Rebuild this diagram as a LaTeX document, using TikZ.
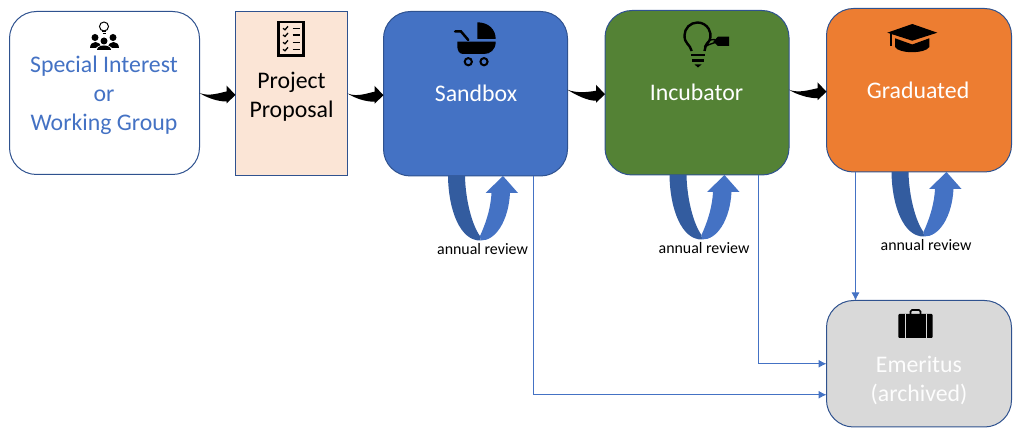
\documentclass[tikz,border=0pt]{standalone}
\usepackage{fontspec}
\setmainfont{Carlito}
\usetikzlibrary{calc,arrows.meta}
\definecolor{edgeblue}{HTML}{2F528F}
\definecolor{stageblue}{HTML}{4472C4}
\definecolor{stagegreen}{HTML}{548235}
\definecolor{stageorange}{HTML}{ED7D31}
\definecolor{stagegrey}{HTML}{D9D9D9}
\definecolor{stagepeach}{HTML}{FBE5D6}
\definecolor{loopdark}{HTML}{335C9F}

\begin{document}
\begin{tikzpicture}[
    x=1pt, y=-1pt,
    stage/.style={
        draw=edgeblue, line width=1pt,
        rounded corners=27pt,
        inner sep=0pt, outer sep=0pt
    },
    caption/.style={
        font=\fontsize{23.8}{29}\selectfont,
        align=center, inner sep=0pt
    },
    review/.style={
        font=\fontsize{15.9}{17}\selectfont,
        inner sep=0pt, yshift=-73pt, xshift=7pt
    },
    sweep/.style={
        to path={
            (\tikztostart) .. controls +(10,4) and ($(\tikztotarget)+(-15,-1)$)
            .. ($(\tikztotarget)+(-9,-2)$)
            -- ($(\tikztotarget)+(-9,-8)$) -- ($(\tikztotarget)+(0,1.5)$)
            -- ($(\tikztotarget)+(-9,10)$) -- ($(\tikztotarget)+(-9,8)$)
            .. controls ($(\tikztotarget)+(-18,8)$) and +(8,5) .. (\tikztostart)
        }
    },
    thinarrow/.style={
        draw=stageblue, line width=1pt,
        -{Latex[length=8pt,width=8pt]}
    },
    reviewloop/.pic={
        \fill[loopdark] (-27.5,0) .. controls (-27,35) and (-15,65) .. (5,64.5)
            -- (4.5,60) .. controls (-3,50) and (-10,25) .. (-10.5,0) -- cycle;
        \fill[stageblue] (4.5,60) .. controls (9,50) and (15,35) .. (16,17)
            -- (10,17) -- (27.5,0) -- (42.5,17) -- (34.5,17)
            .. controls (33,45) and (20,65) .. (5,64.5) -- cycle;
    }
]
\useasboundingbox (0,0) rectangle (1021,438);

\node[stage, fill=white, minimum width=190pt, minimum height=163pt] (interest) at (104.5,93) {};
\node[stage, fill=stagepeach, rounded corners=0pt, minimum width=112pt, minimum height=164pt] (proposal) at (291.5,93.5) {};
\node[stage, fill=stageblue, minimum width=184pt, minimum height=164.5pt] (sandbox) at (475.5,93.75) {};
\node[stage, fill=stagegreen, minimum width=184pt, minimum height=164.5pt] (incubator) at (697,92.75) {};
\node[stage, fill=stageorange, minimum width=185pt, minimum height=163.5pt] (graduated) at (919,90.25) {};
\node[stage, fill=stagegrey, minimum width=185pt, minimum height=126.5pt] (emeritus) at (919,363.75) {};

\node[caption, text=stageblue] (interesttext) at (104,95) {Special Interest\\or\\Working Group};
\node[caption] (proposaltext) at (291.5,96.5) {Project\\Proposal};
\node[caption, text=white] (sandboxtext) at (476,93) {Sandbox};
\node[caption, text=white] (incubatortext) at (696.5,92) {Incubator};
\node[caption, text=white] (graduatedtext) at (918,90) {Graduated};
\node[caption, text=white!95!stagegrey] (emeritustext) at (919,380) {Emeritus\\(archived)};

\fill (interest.east) to[sweep] (proposal.west);
\fill (proposal.east) to[sweep] (sandbox.west);
\fill ([yshift=4pt]sandbox.east) to[sweep] (incubator.west);
\fill ([yshift=3pt]incubator.east) to[sweep] (graduated.west);

\pic at (sandbox.south) {reviewloop};
\pic at (incubator.south) {reviewloop};
\pic at (graduated.south) {reviewloop};
\node[review] (reviewa) at (sandbox.south) {annual review};
\node[review] (reviewb) at (incubator.south) {annual review};
\node[review] (reviewc) at (graduated.south) {annual review};

\draw[thinarrow] ([xshift=58pt]sandbox.south) |- ([yshift=-31pt]emeritus.west);
\draw[thinarrow] ([xshift=61.5pt]incubator.south) |- (emeritus.west);
\draw[thinarrow] ([xshift=-63.5pt]graduated.south) -- ([xshift=-63.5pt]emeritus.north);

% people
\draw[line width=1pt] (104,26.5) circle (4.5);
\draw[line width=1pt] (102,32) -- (106,32) (102.5,34) -- (105.5,34);
\fill (95,37.5) circle (3.5) (113,37.5) circle (3.5);
\fill (89.5,48) .. controls (89.5,40) and (100.5,40) .. (100.5,48) -- cycle;
\fill (107.5,48) .. controls (107.5,40) and (118.5,40) .. (118.5,48) -- cycle;
\fill[white] (104,41) circle (4.5);
\fill (104,41) circle (3.5);
\fill[white] (95,51) .. controls (95,43) and (113,43) .. (113,51) -- cycle;
\fill (97,50.5) .. controls (97,44) and (111,44) .. (111,50.5) -- cycle;

% checklist
\draw[line width=2.5pt] (278.5,22) rectangle (303.5,55.5);
\foreach \rowy in {28.3,35,42.3,49.3}{
    \draw[line width=1.3pt] (283,\rowy) -- (285,\rowy+1.5) -- (288,\rowy-2);
    \draw[line width=1.3pt] (292.5,\rowy) -- (300,\rowy);
}

% pram
\fill (477.3,22.3) .. controls (488,22.3) and (495.7,29) .. (495.7,39) -- (477.3,39) -- cycle;
\fill (457.3,41.7) -- (495.7,41.7) .. controls (495.7,50) and (490,54) .. (484,54)
    -- (463,54) .. controls (459,54) and (457.3,50) .. (457.3,46) -- cycle;
\draw[line width=2.5pt, line cap=round] (455,31.5) -- (461,31.5) -- (468.3,40);
\draw[line width=2pt] (468.3,61.7) circle (3.6) (484,61.7) circle (3.6);

% bulb
\draw[line width=2.4pt] (691.7,51) .. controls (690,44) and (684.5,44) .. (684.5,35.5)
    arc (180:370:13) .. controls (710,42) and (705,44) .. (704.5,51);
\draw[line width=1.4pt] (704.5,47) .. controls (708,39) and (713,38) .. (718,41) .. controls (713,44) and (708,44) .. (705,47);
\fill (713.3,41.5) -- (718,36.7) -- (729,36.7) -- (729,46) -- (718,46) -- cycle;
\draw[line width=2.2pt] (691,55) -- (705,55) (692,60.5) -- (704,60.5);
\fill (694.5,64.5) -- (701.5,64.5) -- (698,67.5) -- cycle;

% hat
\fill (887.3,32.7) -- (912.3,24) -- (937.3,32.7) -- (912.3,40.7) -- cycle;
\fill (895,38.3) -- (912.3,44.5) -- (929.3,38.3) -- (929.3,47) .. controls (925,54) and (899,54) .. (895,47) -- cycle;
\fill (890,33) rectangle (892,46);

% case
\fill[rounded corners=1pt] (898.3,314) rectangle (932.7,338);
\draw[line width=1.6pt, rounded corners=1.5pt] (910.5,314) -- (910.5,310) -- (920.5,310) -- (920.5,314);
\draw[stagegrey, line width=1pt] (905,314) -- (905,338) (926,314) -- (926,338);
\end{tikzpicture}
\end{document}
